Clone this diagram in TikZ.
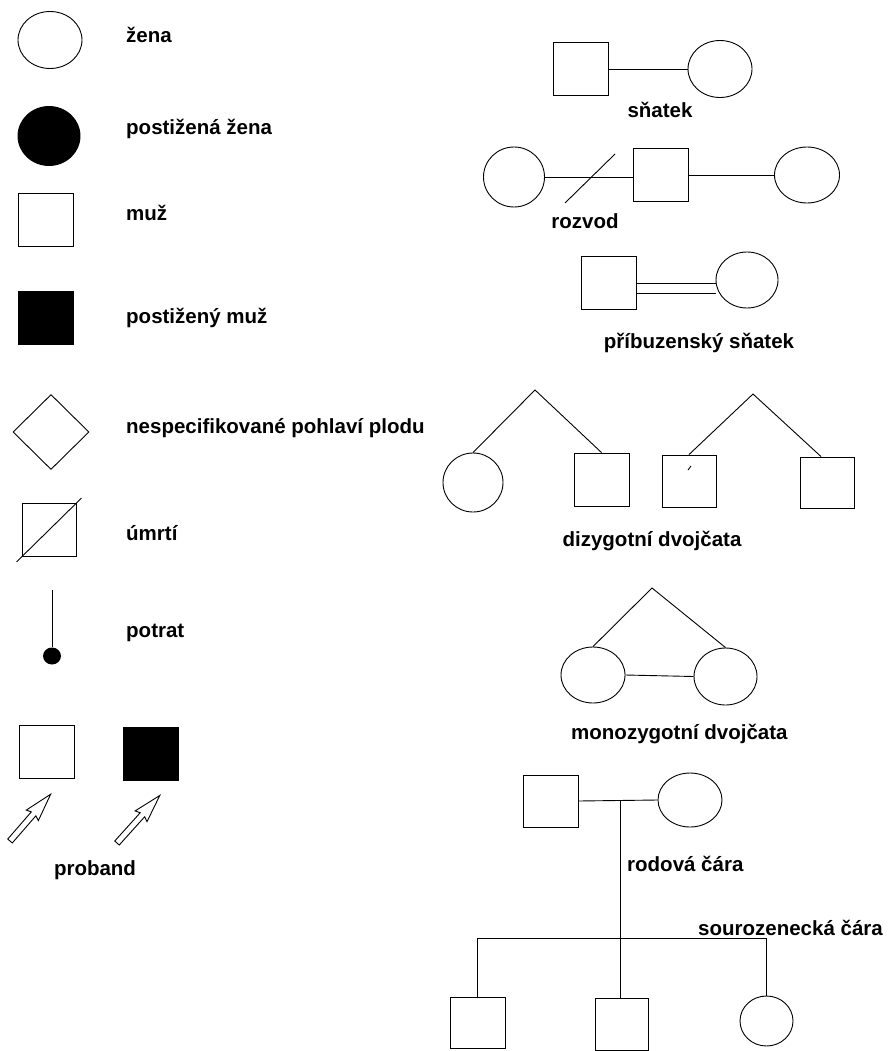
\documentclass[tikz,border=0pt]{standalone}
\usepackage{fontspec}
\setmainfont{Liberation Sans}
\usetikzlibrary{shapes.geometric}

\tikzset{
  line/.style={line width=0.9pt},
  zena/.style={ellipse, draw, line width=0.9pt, inner sep=0pt, minimum width=64pt, minimum height=57pt},
  muz/.style={rectangle, draw, line width=0.9pt, inner sep=0pt, minimum width=55pt, minimum height=53pt},
  popis/.style={font=\bfseries\fontsize{20.5}{24}\selectfont, inner sep=0pt, anchor=base west},
  popisc/.style={popis, anchor=base},
}

\begin{document}
\begin{tikzpicture}[x=1pt, y=-1pt]
\useasboundingbox (0,0) rectangle (888,1051);

% levy sloupec
\node[zena] (zena) at (50,40) {};
\node[popis] (t-zena) at (126,43) {žena};
\node[zena, fill=black, minimum width=62pt, minimum height=59pt] (pzena) at (49,136) {};
\node[popis] (t-pzena) at (126,135) {postižená žena};
\node[muz] (muz) at (46,220) {};
\node[popis] (t-muz) at (126,220) {muž};
\node[muz, fill=black] (pmuz) at (46,318) {};
\node[popis] (t-pmuz) at (126,323) {postižený muž};
\node[diamond, draw, line, inner sep=0pt, minimum width=76pt, minimum height=75pt] (plod) at (51,432) {};
\node[popis] (t-plod) at (126,433) {nespecifikované pohlaví plodu};
\node[muz, minimum width=54pt] (umrti) at (49,530) {};
\draw[line, shorten <=-7pt, shorten >=-7pt] (umrti.south west) -- (umrti.north east);
\node[popis] (t-umrti) at (126,540) {úmrtí};
\coordinate (potrat-top) at (52,590);
\node[ellipse, fill=black, inner sep=0pt, minimum width=18pt, minimum height=17pt] (potrat) at (52,656) {};
\draw[line] (potrat-top) -- (potrat.north);
\node[popis] (t-potrat) at (126,637) {potrat};

% proband
\node[muz] (prob1) at (46.5,751.5) {};
\node[muz, fill=black] (prob2) at (150.5,753.5) {};
\begin{scope}[shift={(10,841)}, rotate=49]
\draw[line] (0,-3) -- (36,-3) -- (34,-8) -- (62,0) -- (34,8) -- (36,3) -- (0,3) -- cycle;
\end{scope}
\begin{scope}[shift={(117,843)}, rotate=48]
\draw[line] (0,-3) -- (38,-3) -- (36,-8) -- (64,0) -- (36,8) -- (38,3) -- (0,3) -- cycle;
\end{scope}
\node[popisc] (t-prob) at (95,875) {proband};

% snatek
\node[muz] (s1) at (581,69) {};
\node[zena] (s2) at (720,69) {};
\draw[line] (s1.east) -- (s2.west);
\node[popisc] (t-snatek) at (660,118) {sňatek};

% rozvod
\node[zena, minimum width=61pt, minimum height=60pt] (r1) at (514,177) {};
\node[muz] (r2) at (660.5,174.5) {};
\node[zena, minimum width=65pt, minimum height=56pt] (r3) at (807,175) {};
\draw[line] (r1.east) -- (r1.east -| r2.west);
\draw[line] (r2.east |- r3.west) -- (r3.west);
\coordinate (rz1) at (565,203);
\coordinate (rz2) at (615,154);
\draw[line] (rz1) -- (rz2);
\node[popisc] (t-rozvod) at (585,228) {rozvod};

% pribuzensky snatek
\node[muz] (p1) at (608.5,283) {};
\node[zena, minimum width=62pt, minimum height=56pt] (p2) at (747,280) {};
\draw[line] (p1.east) -- (p1.east -| p2.west);
\draw[line] ([yshift=-10pt]p1.east) -- ([yshift=-10pt]p1.east -| p2.west);
\node[popisc] (t-pribuz) at (699,348) {příbuzenský sňatek};

% dizygotni dvojcata
\coordinate (d1) at (535,390);
\node[zena, minimum width=60pt, minimum height=59pt] (dz1) at (473,482.5) {};
\node[muz] (dz2) at (601.5,479.5) {};
\draw[line] (dz1.north) -- (d1) -- (dz2.north);
\coordinate (d2) at (753,394);
\node[muz, minimum width=54pt, minimum height=52pt] (dz3) at (689,481) {};
\node[muz, minimum width=54pt, minimum height=51pt] (dz4) at (827,482.5) {};
\draw[line] (dz3.north) -- (d2) -- ([xshift=-6pt]dz4.north);
\draw[line] (688,470) -- (691,466);
\node[popisc] (t-dizyg) at (652,546) {dizygotní dvojčata};

% monozygotni dvojcata
\coordinate (m) at (652,588);
\node[zena, minimum height=56pt] (mz1) at (593,675) {};
\node[zena, minimum width=63pt] (mz2) at (725.5,676.5) {};
\draw[line] (mz1.north) -- (m) -- (mz2.north);
\draw[line] (mz1.east) -- (mz2.west);
\node[popis] (t-monozyg) at (571,739) {monozygotní dvojčata};

% rodokmen
\node[muz, minimum height=52pt] (otec) at (550.5,801) {};
\node[zena, minimum height=54pt] (matka) at (690,800) {};
\draw[line] (otec.east) -- (matka.west);
\coordinate (rod) at (620,801);
\coordinate (sour) at (620,938);
\node[muz, minimum height=51pt] (dite1) at (477.5,1022.5) {};
\node[muz, minimum width=53pt, minimum height=52pt] (dite2) at (621.5,1024) {};
\node[zena, minimum width=53pt, minimum height=50pt] (dite3) at (766.5,1021) {};
\draw[line] (rod) -- (rod |- dite2.north);
\draw[line] (dite1.north) -- (dite1.north |- sour) -- (dite3.north |- sour) -- (dite3.north);
\node[popis] (t-rod) at (627,871) {rodová čára};
\node[popis] (t-sour) at (698,935) {sourozenecká čára};
\end{tikzpicture}
\end{document}
